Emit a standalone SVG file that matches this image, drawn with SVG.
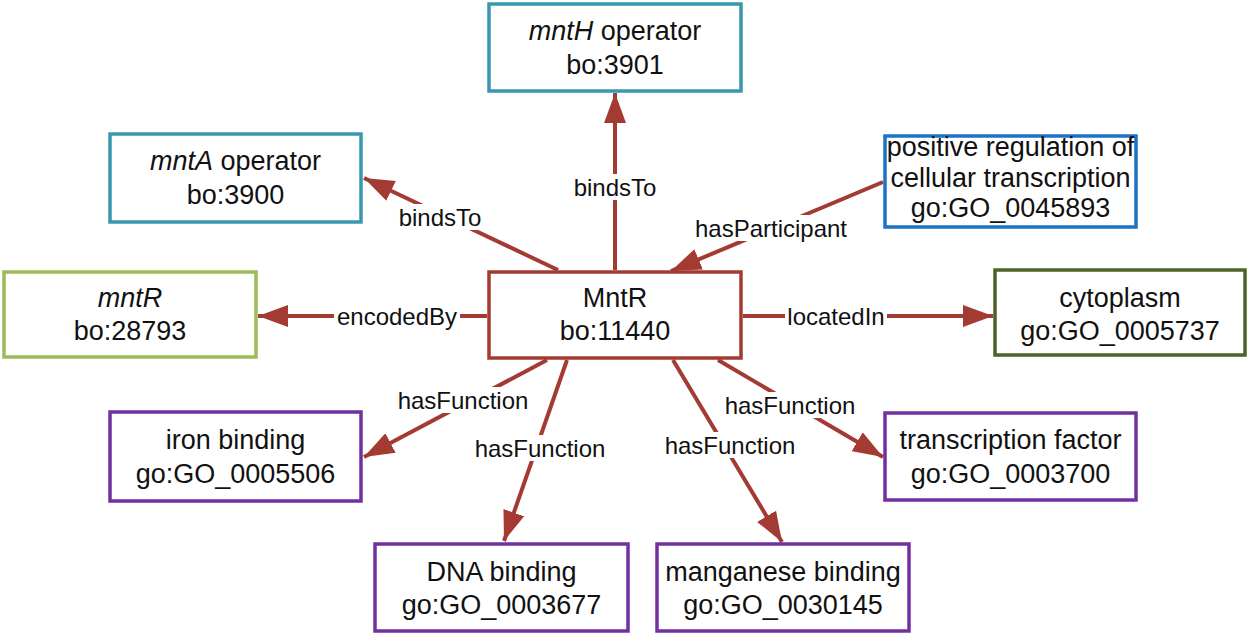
<svg xmlns="http://www.w3.org/2000/svg" width="1250" height="637" viewBox="0 0 1250 637">
<defs>
<style>
.box{fill:#fff;stroke-width:3.5}
.main{stroke:#A33B32}
.teal{stroke:#3A98AE}
.blue{stroke:#1A73C4}
.lgreen{stroke:#9BBB59}
.dgreen{stroke:#4F6228}
.purple{stroke:#7030A0}
.nt{font-family:"Liberation Sans",Arial,sans-serif;font-size:27px;fill:#111;text-anchor:middle}
.edge{stroke:#A33B32;stroke-width:4;fill:none;marker-end:url(#ah)}
.lb{fill:#fff}
.lt{font-family:"Liberation Sans",Arial,sans-serif;font-size:24px;fill:#111;text-anchor:middle}
</style>
<marker id="ah" markerUnits="userSpaceOnUse" markerWidth="30" markerHeight="22" refX="30" refY="11" orient="auto">
<path d="M0,0 L30,11 L0,22 z" fill="#A33B32"/>
</marker>
</defs>
<rect width="1250" height="637" fill="#fff"/>
<g id="connectors">
<line class="edge" x1="615" y1="270" x2="615" y2="93"/>
<line class="edge" x1="558" y1="270" x2="364" y2="178"/>
<line class="edge" x1="883" y1="182" x2="671" y2="271"/>
<line class="edge" x1="487" y1="316" x2="258" y2="316"/>
<line class="edge" x1="743" y1="316" x2="993" y2="316"/>
<line class="edge" x1="547" y1="360" x2="364" y2="457"/>
<line class="edge" x1="567" y1="360" x2="504" y2="541"/>
<line class="edge" x1="673" y1="360" x2="782" y2="542"/>
<line class="edge" x1="718" y1="360" x2="883" y2="457"/>
<rect class="lb" x="565" y="174" width="100" height="26"/>
<text class="lt" x="615" y="195.5">bindsTo</text>
<rect class="lb" x="396" y="204" width="88" height="26"/>
<text class="lt" x="440" y="225.5">bindsTo</text>
<rect class="lb" x="693" y="215" width="156" height="26"/>
<text class="lt" x="771" y="236.5">hasParticipant</text>
<rect class="lb" x="334" y="303" width="126" height="26"/>
<text class="lt" x="397" y="324.5">encodedBy</text>
<rect class="lb" x="785" y="303" width="102" height="26"/>
<text class="lt" x="836" y="324.5">locatedIn</text>
<rect class="lb" x="396" y="387" width="134" height="26"/>
<text class="lt" x="463" y="408.5">hasFunction</text>
<rect class="lb" x="473" y="435" width="134" height="26"/>
<text class="lt" x="540" y="456.5">hasFunction</text>
<rect class="lb" x="663" y="432" width="134" height="26"/>
<text class="lt" x="730" y="453.5">hasFunction</text>
<rect class="lb" x="723" y="392" width="134" height="26"/>
<text class="lt" x="790" y="413.5">hasFunction</text>
</g>
<g id="n_mntH">
<rect class="box teal" x="489" y="4" width="252" height="87"/>
<text class="nt" x="615" y="40"><tspan font-style="italic">mntH</tspan> operator</text>
<text class="nt" x="615" y="74">bo:3901</text>
</g>
<g id="n_mntA">
<rect class="box teal" x="110" y="134" width="251" height="88"/>
<text class="nt" x="235.5" y="170"><tspan font-style="italic">mntA</tspan> operator</text>
<text class="nt" x="235.5" y="203.5">bo:3900</text>
</g>
<g id="n_posreg">
<rect class="box blue" x="885" y="136" width="251" height="91"/>
<text class="nt" x="1010.5" y="156">positive regulation of</text>
<text class="nt" x="1010.5" y="187">cellular transcription</text>
<text class="nt" x="1010.5" y="217">go:GO_0045893</text>
</g>
<g id="n_mntRgene">
<rect class="box lgreen" x="4" y="272" width="252" height="85"/>
<text class="nt" x="130" y="306.5" font-style="italic">mntR</text>
<text class="nt" x="130" y="340">bo:28793</text>
</g>
<g id="n_MntR">
<rect class="box main" x="489" y="272" width="252" height="86"/>
<text class="nt" x="615" y="307">MntR</text>
<text class="nt" x="615" y="340">bo:11440</text>
</g>
<g id="n_cytoplasm">
<rect class="box dgreen" x="995" y="270" width="250" height="85"/>
<text class="nt" x="1120" y="307">cytoplasm</text>
<text class="nt" x="1120" y="340">go:GO_0005737</text>
</g>
<g id="n_iron">
<rect class="box purple" x="110" y="412" width="251" height="89"/>
<text class="nt" x="235.5" y="449">iron binding</text>
<text class="nt" x="235.5" y="482.5">go:GO_0005506</text>
</g>
<g id="n_tf">
<rect class="box purple" x="885" y="413" width="251" height="87"/>
<text class="nt" x="1010.5" y="449">transcription factor</text>
<text class="nt" x="1010.5" y="483">go:GO_0003700</text>
</g>
<g id="n_dna">
<rect class="box purple" x="375" y="544" width="253" height="87"/>
<text class="nt" x="501.5" y="581">DNA binding</text>
<text class="nt" x="501.5" y="614">go:GO_0003677</text>
</g>
<g id="n_mn">
<rect class="box purple" x="657" y="544" width="252" height="87"/>
<text class="nt" x="783" y="581">manganese binding</text>
<text class="nt" x="783" y="614">go:GO_0030145</text>
</g>
</svg>
